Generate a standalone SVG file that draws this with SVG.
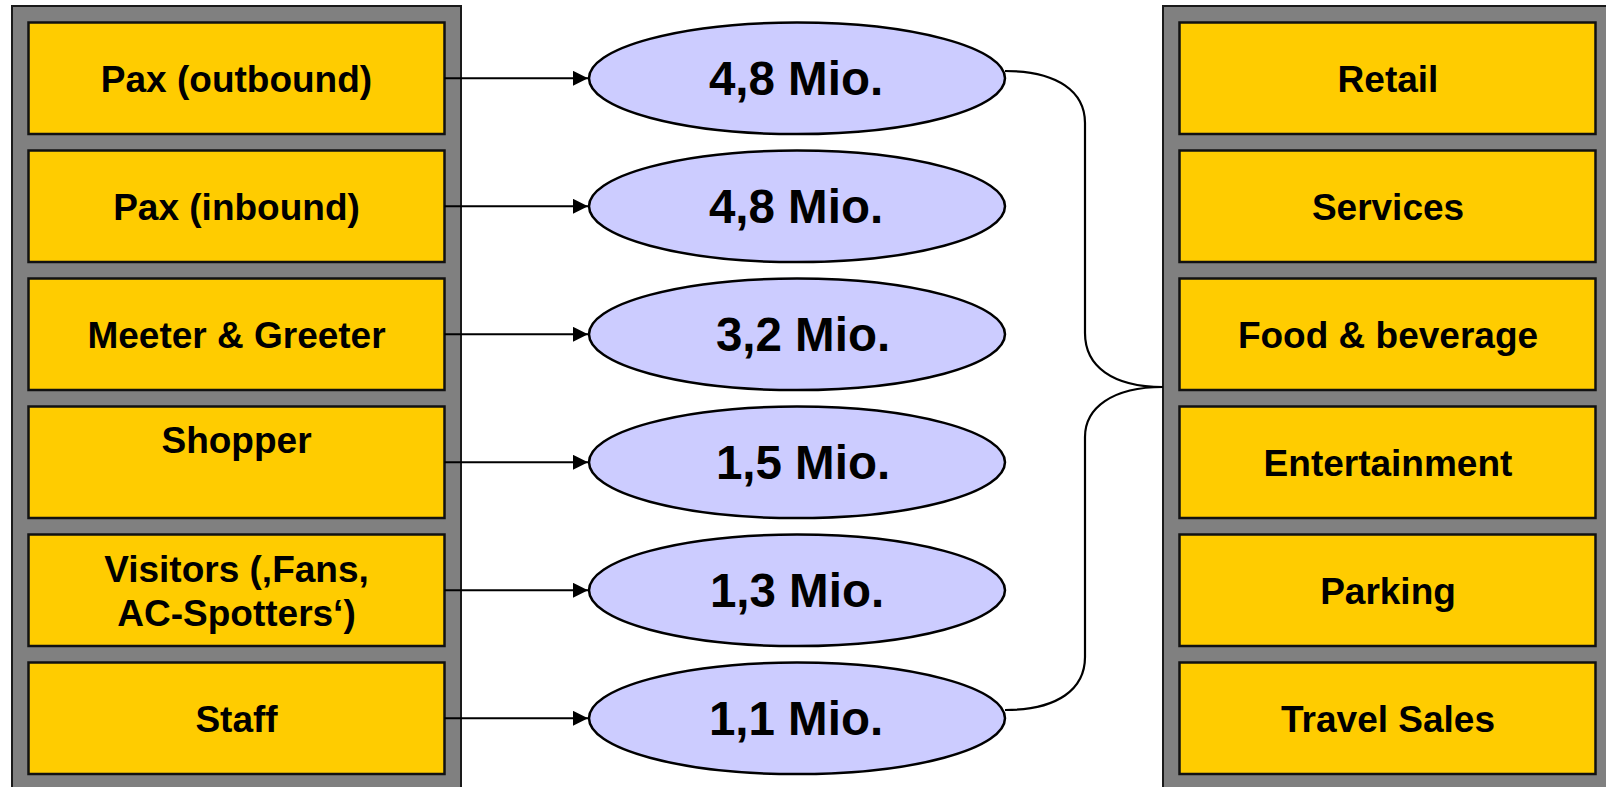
<svg xmlns="http://www.w3.org/2000/svg" width="1606" height="787" viewBox="0 0 1606 787">
<style>
.panel{fill:#808080;stroke:#1a1a1a;stroke-width:2}
.box{fill:#FFCC00;stroke:#111;stroke-width:2.5}
.ell{fill:#CCCCFF;stroke:#000;stroke-width:2.5}
.t{font-family:"Liberation Sans",Arial,sans-serif;font-weight:bold;font-size:37px;fill:#000;text-anchor:middle}
.n{font-family:"Liberation Sans",Arial,sans-serif;font-weight:bold;font-size:47.5px;fill:#000;text-anchor:middle}
.arr{stroke:#000;stroke-width:2;fill:none;marker-end:url(#ah)}
.br{stroke:#000;stroke-width:2.2;fill:none}
</style>
<defs>
<marker id="ah" markerWidth="15" markerHeight="15" refX="15" refY="7.5" orient="auto" markerUnits="userSpaceOnUse">
<path d="M0,0 L15,7.5 L0,15 Z" fill="#000"/>
</marker>
</defs>
<rect width="1606" height="787" fill="#fff"/>
<g id="left-panel">
<rect class="panel" x="12" y="6" width="449" height="800"/>
</g>
<g id="right-panel">
<rect class="panel" x="1163" y="6" width="449" height="800"/>
</g>
<g id="src-pax-out"><rect class="box" x="28.5" y="22.5" width="416" height="111.5"/><text class="t" x="236.5" y="92">Pax (outbound)</text></g>
<g id="src-pax-in"><rect class="box" x="28.5" y="150.5" width="416" height="111.5"/><text class="t" x="236.5" y="220">Pax (inbound)</text></g>
<g id="src-meeter"><rect class="box" x="28.5" y="278.5" width="416" height="111.5"/><text class="t" x="236.5" y="348">Meeter &amp; Greeter</text></g>
<g id="src-shopper"><rect class="box" x="28.5" y="406.5" width="416" height="111.5"/><text class="t" x="236.5" y="453">Shopper</text></g>
<g id="src-visitors"><rect class="box" x="28.5" y="534.5" width="416" height="111.5"/><text class="t" x="236.5" y="582">Visitors (‚Fans,</text><text class="t" x="236.5" y="626">AC-Spotters‘)</text></g>
<g id="src-staff"><rect class="box" x="28.5" y="662.5" width="416" height="111.5"/><text class="t" x="236.5" y="732">Staff</text></g>
<g id="num-1"><ellipse class="ell" cx="797" cy="78.3" rx="208" ry="55.8"/><text class="n" x="796" y="95">4,8 Mio.</text></g>
<g id="num-2"><ellipse class="ell" cx="797" cy="206.3" rx="208" ry="55.8"/><text class="n" x="796" y="223">4,8 Mio.</text></g>
<g id="num-3"><ellipse class="ell" cx="797" cy="334.3" rx="208" ry="55.8"/><text class="n" x="803" y="351">3,2 Mio.</text></g>
<g id="num-4"><ellipse class="ell" cx="797" cy="462.3" rx="208" ry="55.8"/><text class="n" x="803" y="479">1,5 Mio.</text></g>
<g id="num-5"><ellipse class="ell" cx="797" cy="590.3" rx="208" ry="55.8"/><text class="n" x="797" y="607">1,3 Mio.</text></g>
<g id="num-6"><ellipse class="ell" cx="797" cy="718.3" rx="208" ry="55.8"/><text class="n" x="796" y="735">1,1 Mio.</text></g>
<g id="dst-retail"><rect class="box" x="1179.5" y="22.5" width="416" height="111.5"/><text class="t" x="1388" y="92">Retail</text></g>
<g id="dst-services"><rect class="box" x="1179.5" y="150.5" width="416" height="111.5"/><text class="t" x="1388" y="220">Services</text></g>
<g id="dst-food"><rect class="box" x="1179.5" y="278.5" width="416" height="111.5"/><text class="t" x="1388" y="348">Food &amp; beverage</text></g>
<g id="dst-entertainment"><rect class="box" x="1179.5" y="406.5" width="416" height="111.5"/><text class="t" x="1388" y="476">Entertainment</text></g>
<g id="dst-parking"><rect class="box" x="1179.5" y="534.5" width="416" height="111.5"/><text class="t" x="1388" y="604">Parking</text></g>
<g id="dst-travel"><rect class="box" x="1179.5" y="662.5" width="416" height="111.5"/><text class="t" x="1388" y="732">Travel Sales</text></g>
<g id="connectors">
<line class="arr" x1="444.5" y1="78.3" x2="588" y2="78.3"/>
<line class="arr" x1="444.5" y1="206.3" x2="588" y2="206.3"/>
<line class="arr" x1="444.5" y1="334.3" x2="588" y2="334.3"/>
<line class="arr" x1="444.5" y1="462.3" x2="588" y2="462.3"/>
<line class="arr" x1="444.5" y1="590.3" x2="588" y2="590.3"/>
<line class="arr" x1="444.5" y1="718.3" x2="588" y2="718.3"/>
<path class="br" d="M1005,71 C1058,71 1085,92 1085,123 L1085,333 C1085,366 1112,387 1163,387"/>
<path class="br" d="M1005,710 C1058,710 1085,689 1085,657 L1085,437 C1085,408 1112,387 1163,387"/>
</g>
</svg>
